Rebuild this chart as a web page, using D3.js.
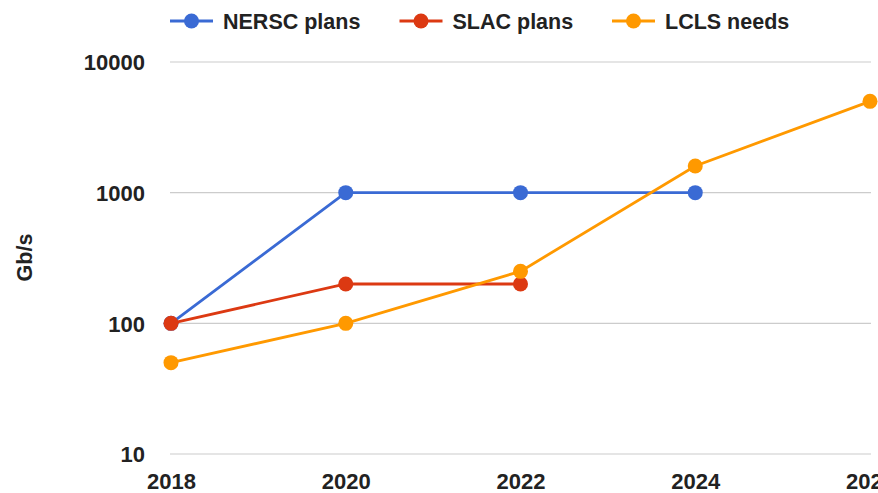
<!DOCTYPE html>
<html><head><meta charset="utf-8">
<script src="https://cdn.jsdelivr.net/npm/d3@7"></script>
<style>body{margin:0;background:#fff;}svg{display:block;font-family:"Liberation Sans", Arial, sans-serif;}</style>
</head><body>
<svg id="c" width="878" height="493"></svg>
<script>
const years = [2018, 2020, 2022, 2024, 2026];
const yTicks = [10, 100, 1000, 10000];
const seriesNames = ["NERSC plans", "SLAC plans", "LCLS needs"];
const seriesColors = ["#3a6ad4", "#dc3912", "#ff9900"];
const nerscValues = [100, 1000, 1000, 1000];
const slacValues = [100, 200, 200];
const lclsValues = [50, 100, 250, 1600, 5000];
const allValues = [nerscValues, slacValues, lclsValues];

const FONT = '"Liberation Sans", Arial, sans-serif';
const svg = d3.select("#c");
const x = d3.scaleLinear().domain([2018, 2026]).range([171, 870]);
const y = d3.scaleLog().domain([10, 10000]).range([454, 62]);

// gridlines
svg.append("g").selectAll("line").data(yTicks).join("line")
  .attr("x1", 170).attr("x2", 871)
  .attr("y1", d => y(d)).attr("y2", d => y(d))
  .attr("stroke", "#cccccc").attr("stroke-width", 1.2);

// y labels
const yAxis = d3.axisLeft(y).tickValues(yTicks).tickFormat(d3.format("d")).tickSize(0).tickPadding(0);
const ga = svg.append("g").attr("transform", "translate(145,0)").call(yAxis);
ga.select(".domain").remove();
ga.selectAll("text").attr("font-size", 22).attr("font-weight", "bold").attr("fill", "#222")
  .attr("font-family", FONT).attr("dy", "0.36em");

// x labels
const xAxis = d3.axisBottom(x).tickValues(years).tickFormat(d3.format("d")).tickSize(0).tickPadding(0);
const gx = svg.append("g").attr("transform", "translate(0,489)").call(xAxis);
gx.select(".domain").remove();
gx.selectAll("text").attr("font-size", 22).attr("font-weight", "bold").attr("fill", "#222")
  .attr("font-family", FONT).attr("dy", "0");

// y title
svg.append("text").attr("transform", "translate(32,257.5) rotate(-90)")
  .attr("text-anchor", "middle").attr("font-size", 21.5).attr("font-weight", "bold").attr("fill", "#222")
  .text("Gb/s");

// series
const line = d3.line().x((d, i) => x(years[i])).y(d => y(d));
allValues.forEach((vals, si) => {
  const g = svg.append("g");
  g.append("path").datum(vals).attr("d", line).attr("fill", "none")
    .attr("stroke", seriesColors[si]).attr("stroke-width", 2.8);
  g.selectAll("circle").data(vals).join("circle")
    .attr("cx", (d, i) => x(years[i])).attr("cy", d => y(d)).attr("r", 7.5)
    .attr("fill", seriesColors[si]);
});

// legend
const legendX = [170, 399.5, 612];
const lg = svg.append("g");
seriesNames.forEach((n, i) => {
  const g = lg.append("g").attr("transform", `translate(${legendX[i]},21)`);
  g.append("line").attr("x1", 0).attr("x2", 43).attr("y1", 0).attr("y2", 0)
    .attr("stroke", seriesColors[i]).attr("stroke-width", 2.8);
  g.append("circle").attr("cx", 21.5).attr("cy", 0).attr("r", 7.5).attr("fill", seriesColors[i]);
  g.append("text").attr("x", 53).attr("y", 0).attr("dy", "0.35em")
    .attr("font-size", 21.5).attr("font-weight", "bold").attr("fill", "#222").text(n);
});
</script>
</body></html>
